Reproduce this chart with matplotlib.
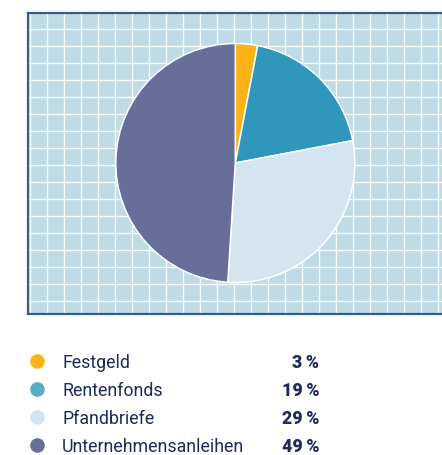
import matplotlib
matplotlib.use("Agg")
import matplotlib.pyplot as plt
import numpy as np

categories = ["Festgeld", "Rentenfonds", "Pfandbriefe", "Unternehmensanleihen"]
values = [3, 19, 29, 49]
pct_labels = ["3 %", "19 %", "29 %", "49 %"]
colors = ["#FBB316", "#2F97BC", "#D2E5F0", "#656F98"]
legend_colors = ["#FBB316", "#5AAAC9", "#D2E5F0", "#656F98"]

W, H = 442, 455
fig = plt.figure(figsize=(W / 100, H / 100), dpi=100)

# panel in pixel units
x0, x1 = 28, 446
ytop, ybot = 13, 314
ax = fig.add_axes([x0 / W, (H - ybot) / H, (x1 - x0) / W, (ybot - ytop) / H])
ax.set_facecolor("#BEDBE7")

cx, cy, r = 235.3, H - 163, 119.5
ax.pie(values, colors=colors, startangle=90, counterclock=False,
       center=(cx, cy), radius=r, frame=True,
       wedgeprops=dict(edgecolor="white", linewidth=1.1))
ax.set_aspect("auto")
ax.set_xlim(x0, x1)
ax.set_ylim(H - ybot, H - ytop)

ax.set_xticks(np.arange(30.3, x1, 17))
ax.set_yticks(H - np.arange(29.3, ybot, 17))
ax.grid(True, color="white", linewidth=1.0, alpha=0.95)
ax.set_axisbelow(True)
ax.tick_params(length=0, labelbottom=False, labelleft=False)
for s in ["top", "left", "bottom"]:
    ax.spines[s].set_color("#3B5A8F")
    ax.spines[s].set_linewidth(1.6)
ax.spines["right"].set_visible(False)

# legend
rows_y = [360.8, 389.2, 417.2, 445.2]
navy = "#1E2A5A"
for cat, pl, c, yy in zip(categories, pct_labels, legend_colors, rows_y):
    fy = 1 - yy / H
    fig.lines.append(plt.Line2D([36.7 / W], [fy], marker="o", markersize=10.5,
                                color=c, markeredgewidth=0, transform=fig.transFigure))
    fig.text(62 / W, fy, cat, fontsize=12.8, color=navy, va="center_baseline",
             ha="left", family="Roboto")
    fig.text(319.5 / W, fy, pl.replace(" ", "\u2009"), fontsize=12.8, color=navy,
             va="center_baseline", ha="right", family=["Roboto", "DejaVu Sans"],
             fontweight="heavy")

fig.savefig("out.png", dpi=100)
